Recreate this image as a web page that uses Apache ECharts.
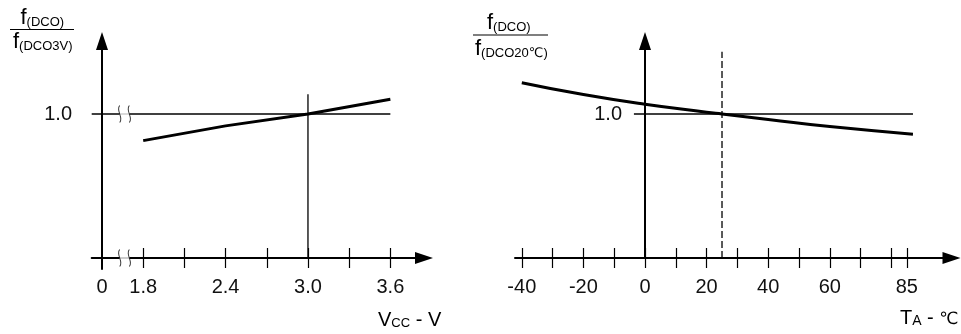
<!DOCTYPE html>
<html>
<head>
<meta charset="utf-8">
<script src="https://cdn.jsdelivr.net/npm/echarts@6/dist/echarts.min.js"></script>
<style>
html, body { margin: 0; padding: 0; background: #fff; }
#chart { width: 961px; height: 334px; }
</style>
</head>
<body>
<div id="chart"></div>
<script>
// left plot: f(DCO)/f(DCO3V) against Vcc
var vccValues = [1.8, 2.4, 3.0, 3.6];
var vccRatio = [0.926, 0.967, 1.0, 1.041];
var vccTicks = [1.8, 2.1, 2.4, 2.7, 3.0, 3.3, 3.6];
var vccLabels = [1.5, 1.8, 2.4, 3.0, 3.6]; // 1.5 sits on the broken origin, printed as 0
var vccRefH = [[1.425, 1.0], [3.6, 1.0]];
var vccRefV = [[3.0, 0.6], [3.0, 1.055]];
var vccBreaks = [[1.664, 1.0], [1.664, 0.6]];

// right plot: f(DCO)/f(DCO20C) against TA
var taValues = [-40, -20, 0, 20, 25, 40, 60, 87];
var taRatio = [1.087, 1.054, 1.027, 1.005, 1.0, 0.985, 0.965, 0.944];
var taTicks = [-40, -30, -20, -10, 0, 10, 20, 30, 40, 50, 60, 70, 80, 85];
var taLabels = [-40, -20, 0, 20, 40, 60, 85];
var taRefH = [[-3.6, 1.0], [87, 1.0]];
var taRefV = [[25, 0.6], [25, 1.173]];

var yLabels = [1.0];

var FONT = 'Liberation Sans, Arial, sans-serif';
var INK = '#111';

function zip(xs, ys) {
    return xs.map(function (x, i) { return [x, ys[i]]; });
}

// two x axes per grid: one ticks outward + labels, one ticks inward, so ticks cross the line
function xAxisPair(grid, min, max, ticks, labels, fmt, offset) {
    var main = {
        type: 'value', gridIndex: grid, min: min, max: max, position: 'bottom', offset: offset,
        axisLine: {
            onZero: false, symbol: ['none', 'triangle'], symbolSize: [12, 18],
            lineStyle: { color: '#000', width: 2 }
        },
        axisTick: { customValues: ticks, length: 10, lineStyle: { color: '#000', width: 1.2 } },
        axisLabel: {
            customValues: labels, formatter: fmt, margin: 19,
            fontSize: 20, fontFamily: FONT, color: INK
        },
        splitLine: { show: false }
    };
    var inner = {
        type: 'value', gridIndex: grid, min: min, max: max, position: 'bottom', offset: offset,
        axisLine: { show: false, onZero: false },
        axisTick: { customValues: ticks, inside: true, length: 10, lineStyle: { color: '#000', width: 1.2 } },
        axisLabel: { show: false },
        splitLine: { show: false }
    };
    return [main, inner];
}

function yAxis(grid, min, max, offset, margin) {
    return {
        type: 'value', gridIndex: grid, min: min, max: max, position: 'left', offset: offset,
        axisLine: {
            onZero: false, symbol: ['none', 'triangle'], symbolSize: [12, 18],
            lineStyle: { color: '#000', width: 2 }
        },
        axisTick: { show: false },
        axisLabel: {
            customValues: yLabels, formatter: function (v) { return v.toFixed(1); },
            margin: margin, fontSize: 20, fontFamily: FONT, color: INK
        },
        splitLine: { show: false }
    };
}

function thin(data, xi, yi, dash) {
    var s = {
        type: 'line', xAxisIndex: xi, yAxisIndex: yi, data: data,
        symbol: 'none', silent: true, z: 3,
        lineStyle: { color: '#000', width: 1.3 }
    };
    if (dash) s.lineStyle.type = dash;
    return s;
}

var rich = {
    f: { fontSize: 22, fontFamily: FONT, color: INK, verticalAlign: 'bottom' },
    s: { fontSize: 13, fontFamily: FONT, color: INK, verticalAlign: 'bottom' },
    m: { fontSize: 20, fontFamily: FONT, color: INK, verticalAlign: 'bottom' },
    a: { fontSize: 14, fontFamily: FONT, color: INK, verticalAlign: 'bottom' },
    c: { fontSize: 13, fontFamily: 'DejaVu Sans', color: INK, verticalAlign: 'bottom' },
    cb: { fontSize: 17, fontFamily: 'DejaVu Sans', color: '#333', verticalAlign: 'bottom' }
};

function label(x, y, text) {
    return { type: 'text', x: x, y: y, style: { text: text, rich: rich, verticalAlign: 'middle' } };
}

function bar(x1, x2, y) {
    return { type: 'line', shape: { x1: x1, y1: y, x2: x2, y2: y }, style: { stroke: '#000', lineWidth: 1.2 } };
}

var breakPath = 'path://M3,0 C0,5 6,13 3,18 M10,0 C7,5 13,13 10,18';

var chart = echarts.init(document.getElementById('chart'));
chart.setOption({
    animation: false,
    backgroundColor: '#fff',
    grid: [
        { left: 91.7, right: 537, top: 41, bottom: 65 },
        { left: 515, right: 9.5, top: 41, bottom: 76 }
    ],
    xAxis: []
        .concat(xAxisPair(0, 1.425, 3.845, vccTicks, vccLabels,
            function (v) { return v === 1.5 ? '0' : v.toFixed(1); }, -11))
        .concat(xAxisPair(1, -42.21, 99.51, taTicks, taLabels,
            function (v) { return String(v); }, 0)),
    yAxis: [
        yAxis(0, 0.5694, 1.2028, -10.3, 30),
        yAxis(1, 0.6, 1.2028, -130, 23)
    ],
    graphic: [
        label(20.5, 18, '{f|f}{s|(DCO)}'),
        bar(10, 74, 29.5),
        label(13, 42, '{f|f}{s|(DCO3V)}'),
        label(487, 23, '{f|f}{s|(DCO)}'),
        bar(473, 548, 35),
        label(475, 49, '{f|f}{s|(DCO20}{c|℃}{s|)}'),
        label(378, 320, '{m|V}{s|CC}{m| - V}'),
        label(900, 318, '{m|T}{a|A}{m| - }{cb|℃}')
    ],
    series: [
        thin(vccRefH, 0, 0),
        thin(vccRefV, 0, 0),
        {
            type: 'line', xAxisIndex: 0, yAxisIndex: 0, data: zip(vccValues, vccRatio),
            symbol: 'none', z: 5, lineStyle: { color: '#000', width: 3 }
        },
        {
            type: 'scatter', xAxisIndex: 0, yAxisIndex: 0, data: vccBreaks, z: 6,
            symbol: 'rect', symbolSize: [10, 5], itemStyle: { color: '#fff' }, silent: true
        },
        {
            type: 'scatter', xAxisIndex: 0, yAxisIndex: 0, data: vccBreaks, z: 7,
            symbol: breakPath, symbolSize: [12, 17], silent: true,
            itemStyle: { color: 'rgba(0,0,0,0)', borderColor: '#000', borderWidth: 1 }
        },
        thin(taRefH, 2, 1),
        thin(taRefV, 2, 1, [7, 3]),
        {
            type: 'line', xAxisIndex: 2, yAxisIndex: 1, data: zip(taValues, taRatio),
            symbol: 'none', smooth: true, z: 5, lineStyle: { color: '#000', width: 3 }
        }
    ]
});

window.addEventListener('resize', function () {
    chart.resize();
});
</script>
</body>
</html>
